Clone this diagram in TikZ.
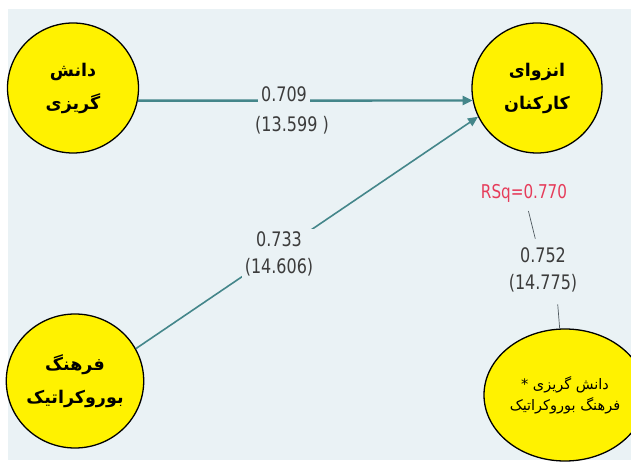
\documentclass[tikz,border=0pt]{standalone}
\usepackage{fontspec}
\usetikzlibrary{arrows.meta,shapes.geometric}
\TeXXeTstate=1
\newfontfamily\arabicfont[Script=Arabic]{DejaVu Sans}
\newfontfamily\numfont[FakeStretch=0.8]{DejaVu Sans}
\definecolor{bgc}{HTML}{EAF2F5}
\definecolor{pathc}{HTML}{44868A}
\definecolor{numc}{HTML}{3C3C3C}
\definecolor{rsqc}{HTML}{E63C5A}
\definecolor{thinc}{HTML}{505A60}
\tikzset{
  lv/.style={ellipse, draw=black, line width=1.3pt, fill=yellow, inner sep=0pt,
    align=center, font=\arabicfont\bfseries\fontsize{17.5}{33}\selectfont},
  ia/.style={ellipse, draw=black, line width=1.3pt, fill=yellow, inner sep=0pt,
    align=center, font=\arabicfont\fontsize{14.5}{21}\selectfont},
  coefl/.style={font=\numfont\fontsize{20}{27}\selectfont, text=numc, inner sep=3pt, align=center},
  gapl/.style={coefl, fill=bgc},
  rsql/.style={font=\numfont\fontsize{19}{22}\selectfont, text=rsqc, inner sep=3pt},
  pathmain/.style={draw=pathc, line width=2.4pt, -{Triangle[length=10pt,width=9pt]}},
  pathdiag/.style={draw=pathc, line width=1.6pt, -{Triangle[length=10pt,width=9pt]}},
  thinl/.style={draw=thinc, line width=0.7pt}
}
\begin{document}
\begin{tikzpicture}[x=1pt,y=-1pt]
\useasboundingbox (0,0) rectangle (631,462);
\clip (0,0) rectangle (631,462);
\fill[bgc] (8,9) rectangle (631,460);

\node[lv, minimum width=131pt, minimum height=130pt] (d) at (73,88)
  {\beginR دانش\endR\\\beginR گریزی\endR};
\node[lv, minimum width=130pt, minimum height=130pt] (e) at (537,88)
  {\beginR انزوای\endR\\\beginR کارکنان\endR};
\node[lv, minimum width=128pt, minimum height=134pt] (f) at (75,381)
  {\beginR فرهنگ\endR\\\beginR بوروکراتیک\endR};
\node[ia, minimum width=162pt, minimum height=132pt] (g) at (565,395)
  {\beginR دانش گریزی *\endR\\\beginR فرهنگ بوروکراتیک\endR};

\draw[pathmain] (d.-11) -- (e.191);
\draw[pathdiag] (f.28) -- (e.206);

\node[gapl] (c1) at (284,94) {0.709};
\node[coefl] (t1) at (292,125) {(13.599 )};
\node[gapl] (c2) at (279,254) {0.733\\(14.606)};

\node[rsql] (rsq) at (524,193) {RSq=0.770};
\node[coefl] (c3) at (543,270) {0.752\\(14.775)};
\draw[thinl, shorten <=6pt, shorten >=6pt] (rsq) -- (c3);
\draw[thinl, shorten >=9pt] (g) -- ([xshift=14pt]c3.south);
\end{tikzpicture}
\end{document}
